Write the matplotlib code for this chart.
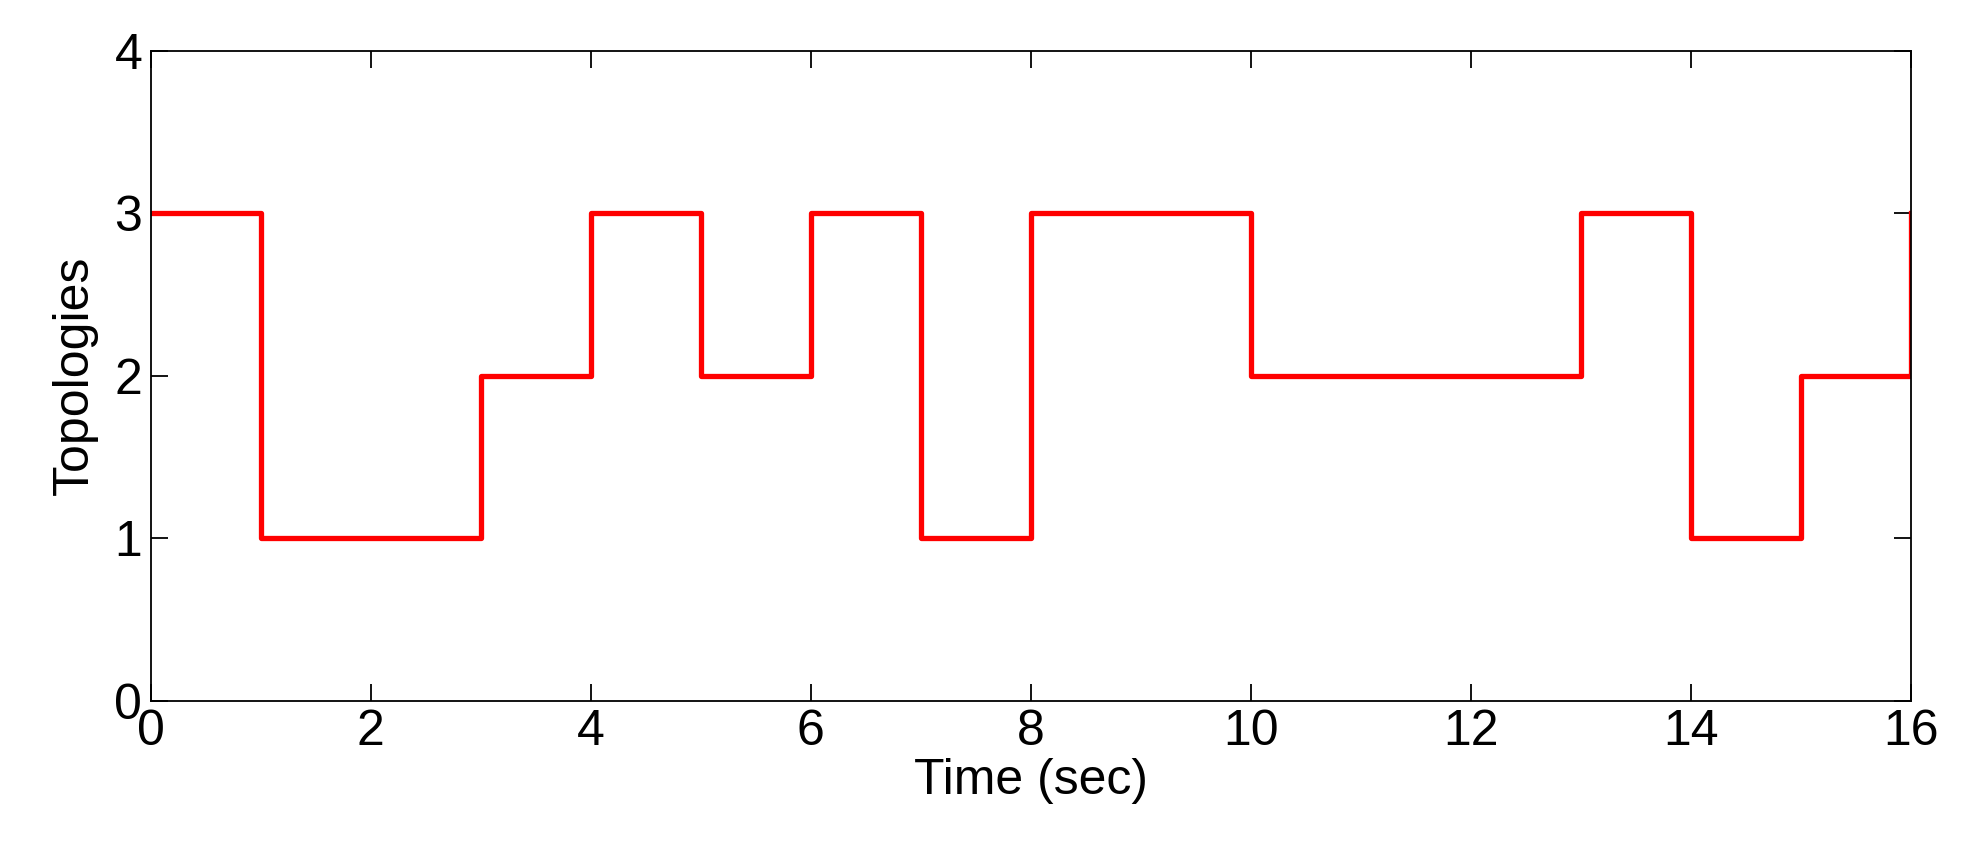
import matplotlib
matplotlib.use("Agg")
import matplotlib.pyplot as plt

times = [0, 1, 3, 4, 5, 6, 7, 8, 10, 13, 14, 15, 16]
topology = [3, 1, 2, 3, 2, 3, 1, 3, 2, 3, 1, 2, 3]
xticks = [0, 2, 4, 6, 8, 10, 12, 14, 16]
yticks = [0, 1, 2, 3, 4]

plt.rcParams['font.family'] = ['Liberation Sans', 'DejaVu Sans']
fig = plt.figure(figsize=(19.7, 8.57), dpi=100)
ax = fig.add_axes([0.0765, 0.182, 0.8935, 0.759])
ax.step(times, topology, where='post', color='#ff0000', lw=3.8)
ax.set_xlim(0, 16)
ax.set_ylim(0, 4)
ax.set_xticks(xticks)
ax.set_yticks(yticks)
ax.tick_params(direction='in', top=True, right=True, labelsize=36, length=12, width=1.3, pad=6)
for s in ax.spines.values():
    s.set_linewidth(1.3)
ax.set_xlabel('Time (sec)', fontsize=36, labelpad=2)
ax.set_ylabel('Topologies', fontsize=36, labelpad=12)
fig.savefig('out.png', dpi=100)
